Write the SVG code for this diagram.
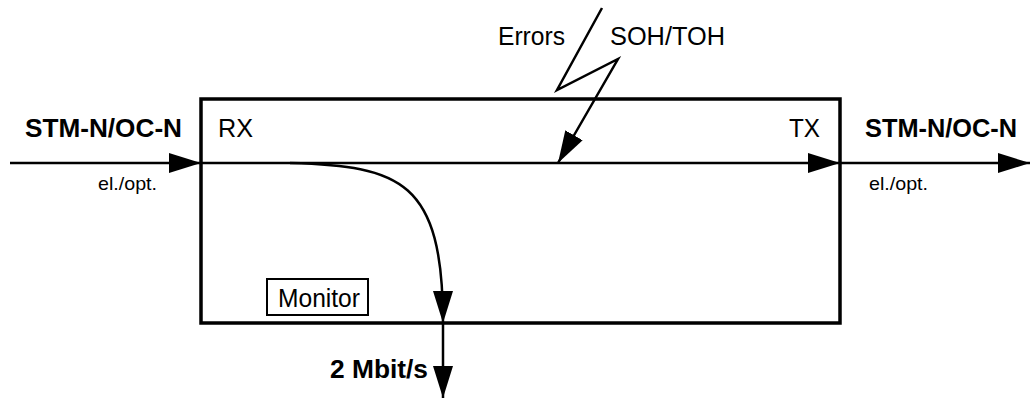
<svg xmlns="http://www.w3.org/2000/svg" width="1036" height="399" viewBox="0 0 1036 399">
<style>
.t{font-family:"Liberation Sans",Arial,sans-serif;font-size:25px;fill:#000}
.b{font-weight:bold}
.s{font-size:19px}
.ln{fill:none;stroke:#000;stroke-width:2.5}
</style>
<defs>
<marker id="ah" markerUnits="userSpaceOnUse" markerWidth="34" markerHeight="22" refX="32" refY="10" orient="auto">
<path d="M0,0 L32,10 L0,20 z" fill="#000"/>
</marker>
</defs>
<rect width="1036" height="399" fill="#fff"/>
<g id="unit">
<rect x="201" y="99" width="639" height="224" fill="none" stroke="#000" stroke-width="3.5"/>
<text class="t" x="218" y="137" textLength="35" lengthAdjust="spacingAndGlyphs">RX</text>
<text class="t" x="789" y="137" textLength="31" lengthAdjust="spacingAndGlyphs">TX</text>
</g>
<g id="monitor">
<rect x="267" y="279" width="101" height="36" fill="none" stroke="#000" stroke-width="2"/>
<text class="t" x="278" y="307" textLength="82" lengthAdjust="spacingAndGlyphs">Monitor</text>
</g>
<g id="labels">
<text class="t b" x="25" y="137" textLength="157" lengthAdjust="spacingAndGlyphs">STM-N/OC-N</text>
<text class="t s" x="98" y="190" textLength="59" lengthAdjust="spacingAndGlyphs">el./opt.</text>
<text class="t b" x="865" y="137" textLength="152" lengthAdjust="spacingAndGlyphs">STM-N/OC-N</text>
<text class="t s" x="869" y="190" textLength="59" lengthAdjust="spacingAndGlyphs">el./opt.</text>
<text class="t" x="498" y="45" textLength="67" lengthAdjust="spacingAndGlyphs">Errors</text>
<text class="t" x="610" y="45" textLength="115" lengthAdjust="spacingAndGlyphs">SOH/TOH</text>
<text class="t b" x="330" y="378" textLength="98" lengthAdjust="spacingAndGlyphs">2 Mbit/s</text>
</g>
<g id="connectors">
<line class="ln" x1="10" y1="163" x2="201" y2="163" marker-end="url(#ah)"/>
<line class="ln" x1="201" y1="163" x2="840" y2="163" marker-end="url(#ah)"/>
<line class="ln" x1="840" y1="163" x2="1030" y2="163" marker-end="url(#ah)"/>
<polyline class="ln" points="602,8 557,90 618,59 558,163" marker-end="url(#ah)"/>
<path class="ln" d="M290 163 C400 166 443 180 443 323" marker-end="url(#ah)"/>
<line class="ln" x1="443" y1="323" x2="443" y2="398" marker-end="url(#ah)"/>
</g>
</svg>
